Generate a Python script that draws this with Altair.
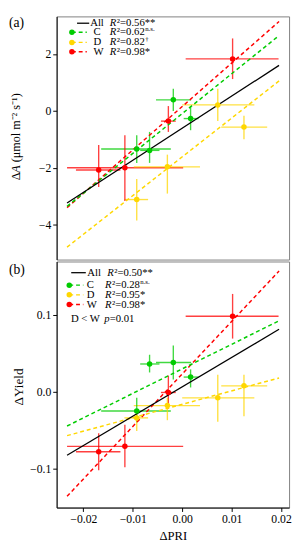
import altair as alt
import pandas as pd

# ---------------- data ----------------
groups = ["W", "W", "W", "W", "C", "C", "C", "C", "D", "D", "D", "D"]
pri = [0.0102, -0.0028, -0.0169, -0.0116, -0.0018, 0.0017, -0.0092, -0.0066, 0.0072, 0.0125, -0.0030, -0.0092]
pri_lo = [0.0007, -0.0043, -0.0215, -0.0233, -0.0053, 0.0003, -0.0164, -0.0085, 0.0000, 0.0079, -0.0098, -0.0117]
pri_hi = [0.0195, -0.0013, -0.0125, 0.0002, 0.0018, 0.0033, -0.0023, -0.0046, 0.0146, 0.0172, 0.0036, -0.0069]

dA = [1.83, -0.36, -2.08, -2.00, 0.39, -0.27, -1.34, -1.39, 0.21, -0.57, -1.97, -3.12]
dA_lo = [1.12, -0.74, -2.68, -3.17, 0.00, -0.68, -1.83, -1.83, -0.36, -1.00, -2.91, -3.86]
dA_hi = [2.55, 0.17, -1.20, -0.86, 0.78, 0.17, -0.86, -0.74, 0.78, -0.17, -1.54, -2.40]

dY = [0.098, -0.001, -0.078, -0.071, 0.038, 0.019, -0.025, 0.036, -0.008, 0.0076, -0.018, -0.034]
dY_lo = [0.069, -0.022, -0.102, -0.098, 0.016, 0.0055, -0.040, 0.025, -0.039, -0.032, -0.037, -0.051]
dY_hi = [0.127, 0.021, -0.054, -0.043, 0.060, 0.029, -0.008, 0.048, 0.022, 0.022, -0.008, -0.022]

legend_names = ["All", "C", "D", "W"]
a_r2 = ["0.56**", "0.62", "0.82", "0.98*"]
a_sup = ["", "n.s.", "†", ""]
b_r2 = ["0.50**", "0.28", "0.95*", "0.98*"]
b_sup = ["", "n.s.", "", ""]

x_ticks = [-0.02, -0.01, 0.0, 0.01, 0.02]
a_ticks = [-4, -2, 0, 2]
b_ticks = [-0.1, 0.0, 0.1]

FONT = "Liberation Serif"
col_scale = alt.Scale(domain=["All", "C", "D", "W"],
                      range=["#000000", "#00CC00", "#FFD700", "#FF0000"])
x_dom = [-0.02541, 0.02163]
fit_extent = [-0.0233, 0.0196]
W = 239


def text_layer(rows, size=11, style="normal", align="left", angle=0):
    df = pd.DataFrame(rows, columns=["px", "py", "t"])
    return alt.Chart(df).mark_text(font=FONT, fontSize=size, fontStyle=style, align=align,
                                   baseline="middle", angle=angle, color="black").encode(
        x=alt.X("px:Q", scale=None, axis=None),
        y=alt.Y("py:Q", scale=None, axis=None),
        text="t:N")


def panel(yv, ylo, yhi, ydom, height, yticks, yfmt, show_x, leg):
    df = pd.DataFrame({"group": groups, "x": pri, "xlo": pri_lo, "xhi": pri_hi,
                       "y": yv, "ylo": ylo, "yhi": yhi})
    xs = alt.Scale(domain=x_dom, nice=False, zero=False)
    ys = alt.Scale(domain=ydom, nice=False, zero=False)
    if show_x:
        xax = alt.Axis(values=x_ticks, format=".2f", title="ΔPRI", titlePadding=6)
    else:
        xax = None
    yax = alt.Axis(values=yticks, format=yfmt, title=None)
    color = alt.Color("group:N", scale=col_scale, legend=None)

    base = alt.Chart(df)
    hbar = base.mark_rule(strokeWidth=1.4, opacity=0.75).encode(
        x=alt.X("xlo:Q", scale=xs, axis=xax), x2="xhi:Q",
        y=alt.Y("y:Q", scale=ys, axis=yax), color=color)
    vbar = base.mark_rule(strokeWidth=1.4, opacity=0.75).encode(
        x=alt.X("x:Q", scale=xs, axis=xax),
        y=alt.Y("ylo:Q", scale=ys, axis=yax), y2="yhi:Q", color=color)
    reg = base.transform_regression("x", "y", groupby=["group"], extent=fit_extent).mark_line(
        strokeDash=[4, 3], strokeWidth=1.5).encode(
        x=alt.X("x:Q", scale=xs, axis=xax), y=alt.Y("y:Q", scale=ys, axis=yax), color=color)
    reg_all = base.transform_regression("x", "y", extent=fit_extent).mark_line(
        color="black", strokeWidth=1.3).encode(
        x=alt.X("x:Q", scale=xs, axis=xax), y=alt.Y("y:Q", scale=ys, axis=yax))
    pts = base.mark_circle(size=32, opacity=1).encode(
        x=alt.X("x:Q", scale=xs, axis=xax), y=alt.Y("y:Q", scale=ys, axis=yax), color=color)

    layers = [hbar, vbar, reg, reg_all, pts]

    # legend (decoration)
    rows_y, all_line, dot_x, dash_end, all_tx, lab_x, r_x, r2, sup = leg
    seg = pd.DataFrame({
        "px": [all_line[0]] + [dot_x] * 3,
        "px2": [all_line[1]] + [dash_end] * 3,
        "py": rows_y, "group": legend_names})
    solid = alt.Chart(seg.iloc[:1]).mark_rule(strokeWidth=1.3).encode(
        x=alt.X("px:Q", scale=None, axis=None), x2="px2:Q",
        y=alt.Y("py:Q", scale=None, axis=None), color=color)
    dashed = alt.Chart(seg.iloc[1:]).mark_rule(strokeWidth=1.5, strokeDash=[4, 3]).encode(
        x=alt.X("px:Q", scale=None, axis=None), x2="px2:Q",
        y=alt.Y("py:Q", scale=None, axis=None), color=color)
    dots = alt.Chart(seg.iloc[1:]).mark_circle(size=32, opacity=1).encode(
        x=alt.X("px:Q", scale=None, axis=None),
        y=alt.Y("py:Q", scale=None, axis=None), color=color)
    layers += [solid, dashed, dots]

    names = [(all_tx, rows_y[0], "All")] + [(lab_x, rows_y[i], legend_names[i]) for i in range(1, 4)]
    rr = [(r_x[i], rows_y[i], "R") for i in range(4)]
    vals = [(r_x[i] + 7.2, rows_y[i], "²=" + r2[i]) for i in range(4)]
    sups = [(r_x[i] + 36.3, rows_y[i] - 3.5, sup[i]) for i in range(4) if sup[i]]
    layers += [text_layer(names + vals), text_layer(rr, style="italic")]
    if sups:
        layers.append(text_layer(sups, size=7))
    return layers, height


# ---- panel (a) ----
leg_a = ([7, 16.3, 26.7, 36.3], (21, 33.5), 15.7, 31, 34.5, 38,
         [54.7, 54.7, 54.7, 54.7], a_r2, a_sup)
la, ha = panel(dA, dA_lo, dA_hi, [-5.232, 3.325], 250, a_ticks, "d", False, leg_a)
la.append(text_layer([(-49, 7, "(a)")], size=14))
la.append(text_layer([(-42, 168.4, "Δ"), (-42, 150.0, "(μmol m⁻² s⁻¹)")], size=12.5, angle=270))
la.append(text_layer([(-42, 160.75, "A")], size=12.5, style="italic", angle=270))
chart_a = alt.layer(*la).properties(width=W, height=ha)

# ---- panel (b) ----
leg_b = ([11.5, 24.3, 34.3, 44.3], (15, 30), 13, 27.5, 31.5, 31,
         [52, 49.7, 49.7, 49.7], b_r2, b_sup)
lb, hb = panel(dY, dY_lo, dY_hi, [-0.1505, 0.1691], 253, b_ticks, ".1f", True, leg_b)
lb.append(text_layer([(-49, 9, "(b)")], size=14))
lb.append(text_layer([(-39, 129, "ΔYield")], size=13.5, align="center", angle=270))
lb.append(text_layer([(14.7, 58.7, "D < W"), (54.5, 58.7, "=0.01")]))
lb.append(text_layer([(49, 58.7, "p")], style="italic"))
chart_b = alt.layer(*lb).properties(width=W, height=hb)

chart = alt.vconcat(chart_a, chart_b, spacing=0).properties(padding=0).configure_view(
    stroke="#7f7f7f", strokeWidth=1
).configure_axis(
    labelFont=FONT, labelFontSize=12, labelColor="black", tickColor="black",
    domainColor="black", tickSize=4, labelPadding=2, grid=False,
    titleFont=FONT, titleFontSize=13, titleFontWeight="normal", titleColor="black"
)

chart.save("out.html", embed_options={"renderer": "svg", "actions": False})
